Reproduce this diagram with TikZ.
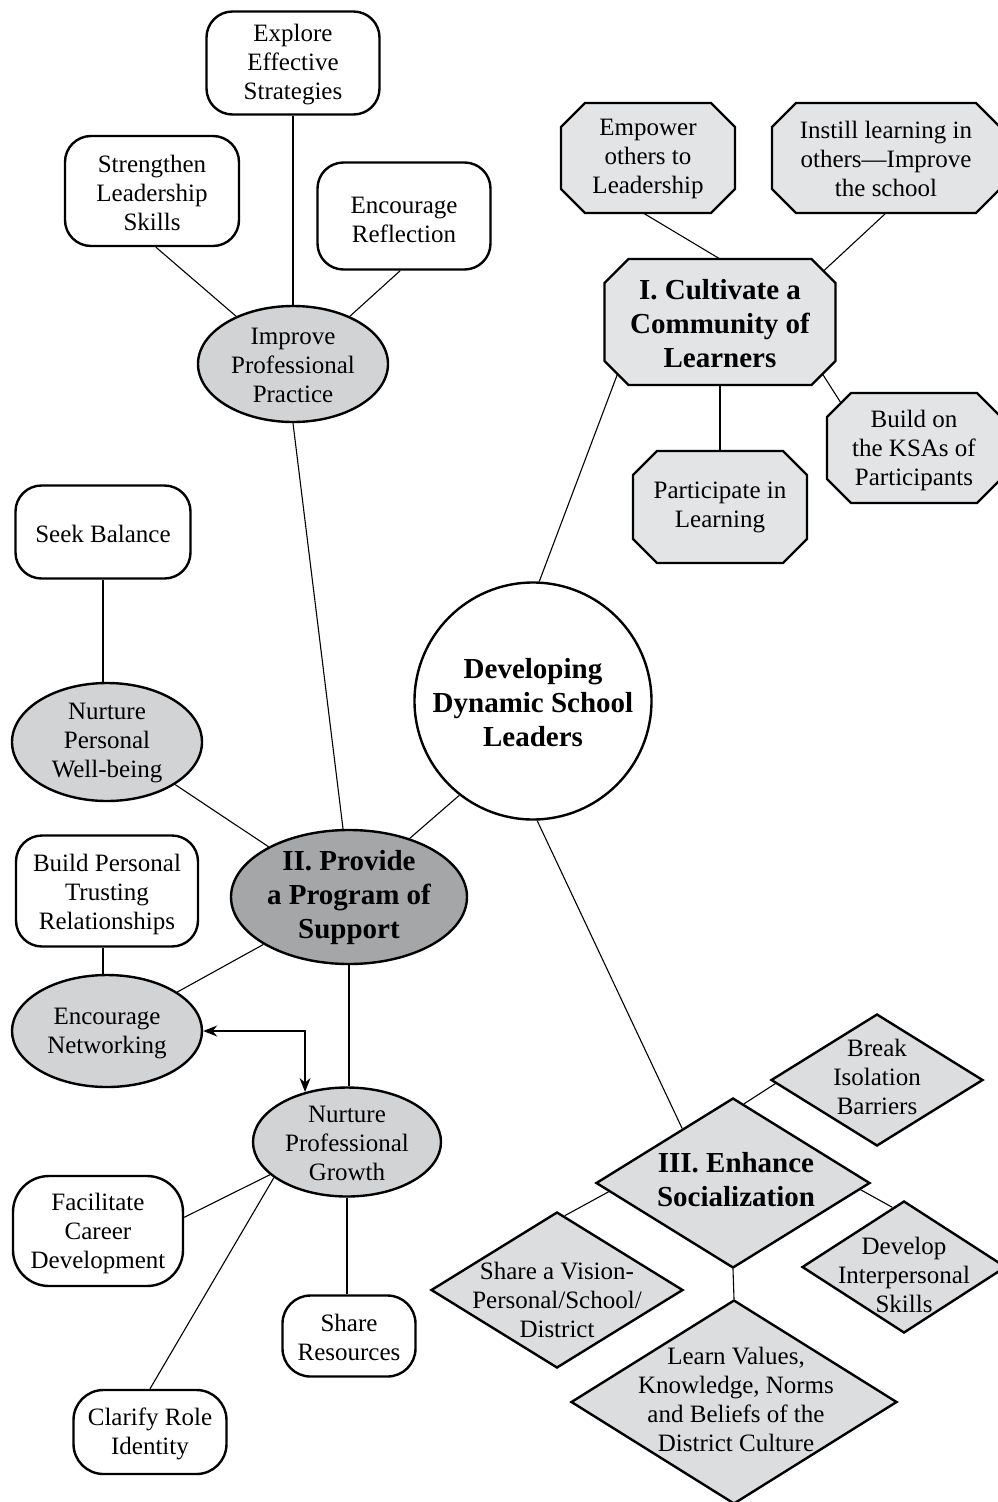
\documentclass[tikz,border=0pt]{standalone}
\usepackage{fontspec}
\setmainfont{Liberation Serif}
\usetikzlibrary{shapes.geometric,arrows.meta}
\definecolor{ellgray}{HTML}{D2D3D5}
\definecolor{octgray}{HTML}{E3E4E6}
\definecolor{diagray}{HTML}{DCDDDF}
\definecolor{dkgray}{HTML}{A5A6A8}
\newcommand\octo[1]{\filldraw[octline] ([xshift=24pt]#1.north west) -- ([xshift=-24pt]#1.north east) -- ([yshift=-24pt]#1.north east) -- ([yshift=24pt]#1.south east) -- ([xshift=-24pt]#1.south east) -- ([xshift=24pt]#1.south west) -- ([yshift=24pt]#1.south west) -- ([yshift=-24pt]#1.north west) -- cycle;}
\begin{document}
\begin{tikzpicture}[x=1pt,y=-1pt,
 frame/.style={draw=black,line width=2.4pt,inner sep=0pt},
 rbox/.style={frame,rectangle,rounded corners=26pt,fill=white},
 ell/.style={frame,ellipse,fill=ellgray},
 oct/.style={rectangle,inner sep=0pt,outer sep=0pt},
 octline/.style={draw=black,line width=2.4pt,fill=octgray,line join=miter},
 dia/.style={frame,diamond,fill=diagray},
 txt/.style={align=center,inner sep=0pt,font=\fontsize{25}{29}\selectfont},
 btxt/.style={align=center,inner sep=0pt,font=\fontsize{29}{34}\selectfont\bfseries},
 link/.style={line width=1.1pt},
 sz/.style 2 args={minimum width=#1pt,minimum height=#2pt}]
\useasboundingbox (0,0) rectangle (997,1502);
% shapes
\node[rbox,sz={173}{103}] (exp) at (293,63) {};
\node[rbox,sz={174}{110}] (str) at (152,191) {};
\node[rbox,sz={173}{107}] (ref) at (404,216) {};
\node[ell,sz={190}{116}] (ipp) at (293,364) {};
\node[rbox,sz={175}{93}] (sb) at (103,532) {};
\node[ell,sz={190}{118}] (npw) at (107,742) {};
\node[rbox,sz={182}{111}] (bpt) at (107,891) {};
\node[ell,fill=dkgray,sz={236}{134}] (pps) at (349,897) {};
\node[ell,sz={190}{112}] (en) at (107,1031) {};
\node[ell,sz={188}{109}] (npg) at (347,1142) {};
\node[rbox,rounded corners=36pt,sz={170}{110}] (fac) at (98,1231) {};
\node[rbox,rounded corners=28pt,sz={133}{81}] (sr) at (349,1336) {};
\node[rbox,rounded corners=30pt,sz={153}{84}] (cla) at (150,1432) {};
\node[frame,circle,fill=white,minimum size=237pt] (dev) at (533,701) {};
\node[oct,sz={231}{126}] (cul) at (720,322) {};
\node[oct,sz={174}{110}] (emp) at (648,158) {};
\node[oct,sz={228}{110}] (ins) at (886,158) {};
\node[oct,sz={174}{110}] (bld) at (914,448) {};
\node[oct,sz={174}{112}] (par) at (720,507) {};
\octo{cul}\octo{emp}\octo{ins}\octo{bld}\octo{par}
\node[dia,sz={274}{170}] (enh) at (733,1183) {};
\node[dia,sz={212}{132}] (brk) at (877,1080) {};
\node[dia,sz={252}{156}] (shv) at (557,1290) {};
\node[dia,sz={204}{132}] (dvl) at (904,1267) {};
\node[dia,sz={326}{204}] (lrn) at (734,1402) {};
% texts
\node[txt] (exp-t) at (293,65) {Explore\\Effective\\Strategies};
\node[txt] (str-t) at (152,193) {Strengthen\\Leadership\\Skills};
\node[txt] (ref-t) at (404,220) {Encourage\\Reflection};
\node[txt] (ipp-t) at (293,365) {Improve\\Professional\\Practice};
\node[txt] (sb-t) at (103,534) {Seek Balance};
\node[txt] (npw-t) at (107,743) {Nurture\\Personal\\Well-being};
\node[txt] (bpt-t) at (107,894) {Build Personal\\Trusting\\Relationships};
\node[btxt] (pps-t) at (349,898) {II. Provide\\a Program of\\Support};
\node[txt] (en-t) at (107,1033) {Encourage\\Networking};
\node[txt] (npg-t) at (347,1143) {Nurture\\Professional\\Growth};
\node[txt] (fac-t) at (98,1233) {Facilitate\\Career\\Development};
\node[txt] (sr-t) at (349,1337) {Share\\Resources};
\node[txt] (cla-t) at (150,1434) {Clarify Role\\Identity};
\node[btxt] (dev-t) at (533,703) {Developing\\Dynamic School\\Leaders};
\node[btxt] (cul-t) at (720,324) {I. Cultivate a\\Community of\\Learners};
\node[txt] (emp-t) at (648,159) {Empower\\others to\\Leadership};
\node[txt] (ins-t) at (886,159) {Instill learning in\\others—Improve\\the school};
\node[txt] (bld-t) at (914,450) {Build on\\the KSAs of\\Participants};
\node[txt] (par-t) at (720,507) {Participate in\\Learning};
\node[btxt] (enh-t) at (736,1180) {III. Enhance\\Socialization};
\node[txt] (brk-t) at (877,1077) {Break\\Isolation\\Barriers};
\node[txt] (shv-t) at (557,1300) {Share a Vision-\\Personal/School/\\District};
\node[txt] (dvl-t) at (904,1275) {Develop\\Interpersonal\\Skills};
\node[txt] (lrn-t) at (736,1399) {Learn Values,\\Knowledge, Norms\\and Beliefs of the\\District Culture};
% connectors
\draw[link] (exp.south) -- (ipp.north);
\draw[link] (str.274) -- (ipp.140);
\draw[link] (ref.266) -- (ipp.40);
\draw[link] (ipp.south) -- (pps.95);
\draw[link] (sb.south) -- (sb.south |- npw.north);
\draw[link] (npw.-32) -- (pps.148);
\draw[link] ([xshift=-4pt]bpt.south) -- ([xshift=-4pt]bpt.south |- en.north);
\draw[link] (en.29) -- (pps.209);
\draw[link] (pps.south) -- (pps.south |- npg.north);
\draw[line width=1.5pt,{Stealth[length=14pt,width=11pt]}-{Stealth[length=14pt,width=11pt]}] (en.east) -| (npg.130);
\draw[link] (pps.44) -- (dev.232);
\draw[link] (dev.87) -- ([xshift=13pt,yshift=11pt]cul.south west);
\draw[link] (dev.272) -- (enh.133);
\draw[link] (npg.203) -- (fac.9);
\draw[link] (npg.206) -- (cla.north);
\draw[link] (npg.south) -- (npg.south |- sr.north);
\draw[link] (cul.north) -- (emp.265);
\draw[link] (ins.south) -- ([xshift=-12pt,yshift=-12pt]cul.north east);
\draw[link] (cul.south) -- (par.north);
\draw[link] ([xshift=-13pt,yshift=11pt]cul.south east) -- ([xshift=14pt,yshift=-10pt]bld.north west);
\draw[link] (enh.82) -- (brk.182);
\draw[link] (enh.184) -- (shv.84);
\draw[link] (enh.357) -- (dvl.101);
\draw[link] (enh.south) -- (lrn.north);
\end{tikzpicture}
\end{document}
